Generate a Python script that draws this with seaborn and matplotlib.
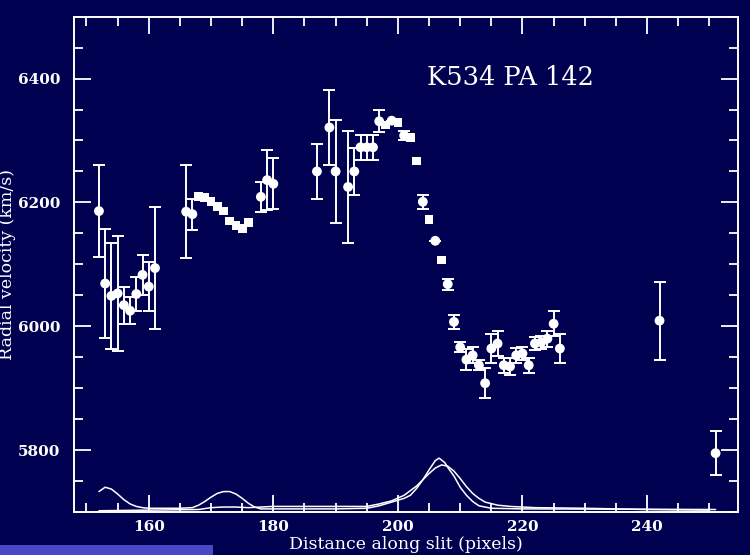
import numpy as np
import pandas as pd
import seaborn as sns
import matplotlib.pyplot as plt
from matplotlib.ticker import MultipleLocator
from matplotlib.patches import Rectangle

# velocity points with error bars (pixel, km/s, +/- km/s)
x_err = [152, 153, 154, 155, 156, 157, 158, 159, 160, 161, 166, 167, 178, 179, 180,
         187, 189, 190, 192, 193, 194, 195, 196, 197, 199, 201, 204, 206, 208, 209,
         210, 211, 212, 213, 214, 215, 216, 217, 218, 219, 220, 221, 222, 223, 224,
         225, 226, 242, 251]
v_err = [6186, 6069, 6049, 6053, 6034, 6025, 6052, 6083, 6064, 6094, 6185, 6181, 6209, 6236, 6230,
         6250, 6321, 6250, 6225, 6250, 6289, 6289, 6289, 6331, 6332, 6308, 6201, 6138, 6068, 6007,
         5966, 5946, 5953, 5937, 5908, 5964, 5972, 5937, 5935, 5953, 5956, 5937, 5972, 5974, 5980,
         6004, 5964, 6009, 5795]
e_err = [74, 88, 85, 93, 30, 22, 28, 32, 40, 99, 75, 25, 24, 48, 41,
         44, 60, 83, 90, 38, 20, 20, 20, 18, 0, 7, 11, 0, 9, 11,
         8, 17, 13, 8, 24, 24, 20, 12, 13, 12, 10, 12, 11, 10, 13,
         20, 24, 63, 35]

# points drawn as squares (error smaller than the symbol)
x_sq = [168, 169, 170, 171, 172, 173, 174, 175, 176, 198, 200, 202, 203, 205, 207]
v_sq = [6210, 6208, 6201, 6194, 6186, 6170, 6163, 6158, 6167, 6325, 6329, 6305, 6267, 6172, 6107]

# light profiles along the slit (arbitrary units, drawn at bottom)
x_prof1 = [152, 153, 154, 155, 156, 157, 158, 159, 160, 165, 167, 168, 169, 170, 171, 172, 173,
           174, 175, 176, 177, 178, 180, 190, 195, 197, 199, 201, 202, 203, 204, 205, 206,
           206.6, 207.5, 208, 209, 210, 211, 212, 213, 215, 220, 251]
y_prof1 = [5733, 5740, 5737, 5729, 5720, 5713, 5709, 5707, 5706, 5706, 5707, 5711, 5717, 5724,
           5730, 5733, 5733, 5729, 5722, 5714, 5708, 5705, 5705, 5705, 5706, 5710, 5716, 5722,
           5727, 5738, 5752, 5768, 5783, 5787, 5780, 5772, 5758, 5740, 5727, 5717, 5710, 5706,
           5705, 5704]
x_prof2 = [152, 160, 168, 170, 172, 174, 176, 178, 180, 190, 195, 197, 199, 201, 203, 205, 206,
           207, 208, 209, 210, 211, 212, 213, 214, 216, 218, 222, 230, 240, 250]
y_prof2 = [5702, 5703, 5704, 5707, 5708, 5708, 5707, 5708, 5709, 5709, 5709, 5713, 5718, 5727,
           5742, 5762, 5771, 5776, 5774, 5766, 5754, 5741, 5730, 5722, 5716, 5711, 5709, 5707,
           5706, 5704, 5703]

bg = '#000050'
fg = 'white'

sns.set_style('ticks')
plt.rcParams['font.family'] = ['DejaVu Serif']

fig = plt.figure(figsize=(7.5, 5.55), dpi=100, facecolor=bg)
ax = fig.add_axes([0.0987, 0.0775, 0.8853, 0.8925], facecolor=bg)

prof1 = pd.DataFrame({'x': x_prof1, 'y': y_prof1})
prof2 = pd.DataFrame({'x': x_prof2, 'y': y_prof2})
sns.lineplot(data=prof1, x='x', y='y', color=fg, lw=1.1, sort=False, ax=ax)
sns.lineplot(data=prof2, x='x', y='y', color=fg, lw=1.1, sort=False, ax=ax)

# error bars
ax.errorbar(x_err, v_err, yerr=e_err, fmt='none', ecolor=fg, elinewidth=1.4,
            capsize=4, capthick=1.4)

pts = pd.DataFrame({'x': x_err, 'v': v_err})
sq = pd.DataFrame({'x': x_sq, 'v': v_sq})
sns.scatterplot(data=pts, x='x', y='v', color=fg, marker='o', s=50, edgecolor='none', ax=ax)
sns.scatterplot(data=sq, x='x', y='v', color=fg, marker='s', s=40, edgecolor='none', ax=ax)

ax.set_xlim(148, 254.6)
ax.set_ylim(5700, 6500)
ax.xaxis.set_major_locator(MultipleLocator(20))
ax.xaxis.set_minor_locator(MultipleLocator(5))
ax.yaxis.set_major_locator(MultipleLocator(200))
ax.yaxis.set_minor_locator(MultipleLocator(50))
ax.tick_params(which='both', direction='in', top=True, right=True, colors=fg,
               width=1.3, labelsize=11)
ax.tick_params(which='major', length=12)
ax.tick_params(which='minor', length=6.5)
ax.tick_params(axis='y', pad=10)
ax.tick_params(axis='x', pad=6)
for lab in ax.get_xticklabels() + ax.get_yticklabels():
    lab.set_fontweight('bold')
for s in ax.spines.values():
    s.set_color(fg)
    s.set_linewidth(1.4)

ax.set_xlabel('Distance along slit (pixels)', color=fg, fontsize=12.5, labelpad=1)
ax.set_ylabel('Radial velocity (km/s)', color=fg, fontsize=12.5, labelpad=1)
ax.text(218, 6401, 'K534 PA 142', color=fg, fontsize=18.5, ha='center', va='center')

# light strip at the lower left of the slide
fig.patches.append(Rectangle((0, 0), 213 / 750, 10 / 555, transform=fig.transFigure,
                             facecolor='#4848c8', edgecolor='none'))

fig.savefig('out.png', dpi=100, facecolor=bg)
